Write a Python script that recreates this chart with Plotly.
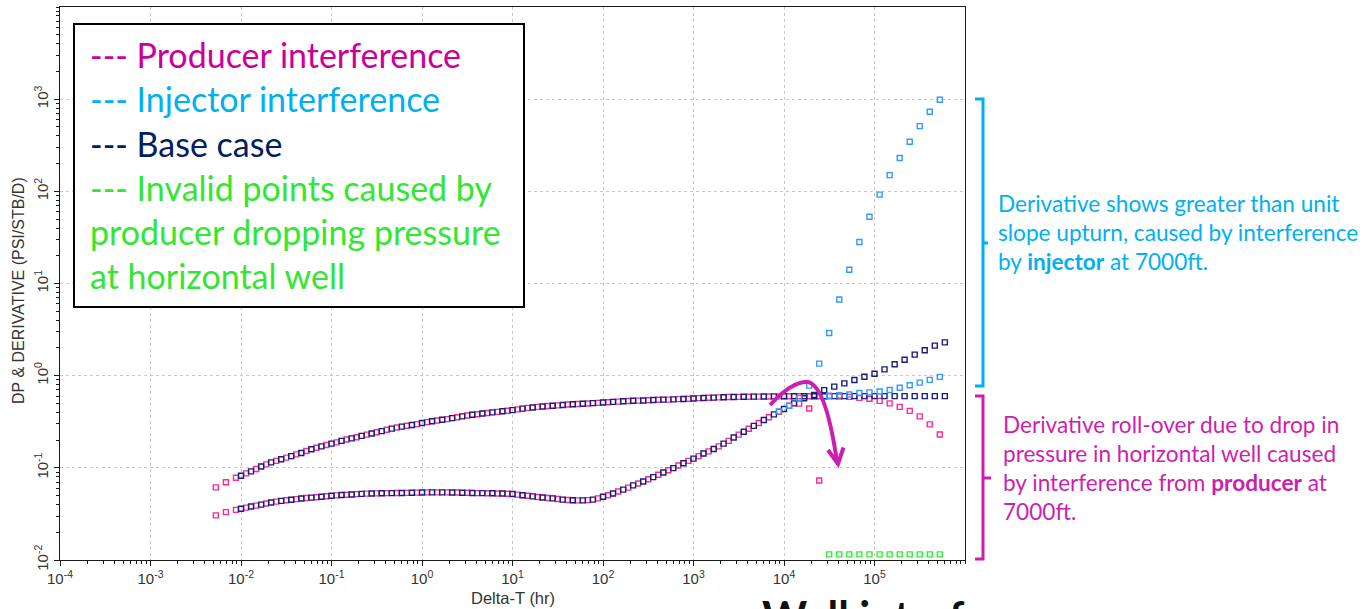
import plotly.graph_objects as go

# ---- sampled times (hr) ----
base_t = [
    0.01, 0.0129, 0.0167, 0.0215, 0.0278, 0.0359, 0.0464, 0.0599, 0.0774,
    0.1, 0.129, 0.167, 0.215, 0.278, 0.359, 0.464, 0.599, 0.774,
    1.0, 1.29, 1.67, 2.15, 2.78, 3.59, 4.64, 5.99, 7.74,
    10.0, 12.9, 16.7, 21.5, 27.8, 35.9, 46.4, 59.9, 77.4,
    100, 129, 167, 215, 278, 359, 464, 599, 774,
    1.0e3, 1.29e3, 1.67e3, 2.15e3, 2.78e3, 3.59e3, 4.64e3, 5.99e3, 7.74e3,
    1.0e4, 1.29e4, 1.67e4, 2.15e4, 2.78e4, 3.59e4, 4.64e4, 5.99e4, 7.74e4,
    1.0e5, 1.29e5, 1.67e5, 2.15e5, 2.78e5, 3.59e5, 4.64e5, 5.99e5,
]
prod_t = [
    0.00527, 0.00681, 0.0088,
    0.0114, 0.0147, 0.019, 0.0245, 0.0316, 0.0408, 0.0527, 0.0681, 0.088,
    0.114, 0.147, 0.19, 0.245, 0.316, 0.408, 0.527, 0.681, 0.88,
    1.14, 1.47, 1.9, 2.45, 3.16, 4.08, 5.27, 6.81, 8.8,
    11.4, 14.7, 19.0, 24.5, 31.6, 40.8, 52.7, 68.1, 88.0,
    114, 147, 190, 245, 316, 408, 527, 681, 880,
    1.14e3, 1.47e3, 1.9e3, 2.45e3, 3.16e3, 4.08e3, 5.27e3, 6.81e3, 8.8e3,
    1.14e4, 1.47e4, 1.9e4, 2.45e4, 3.16e4, 4.08e4, 5.27e4, 6.81e4, 8.8e4,
    1.14e5, 1.47e5, 1.9e5, 2.45e5, 3.16e5, 4.08e5, 5.27e5,
]

# ---- base case ----
base_dp = [
    0.0822, 0.0915, 0.1035, 0.1145, 0.124, 0.134, 0.145, 0.159, 0.171,
    0.183, 0.196, 0.209, 0.222, 0.236, 0.250, 0.266, 0.280, 0.292,
    0.306, 0.320, 0.332, 0.346, 0.362, 0.376, 0.388, 0.400, 0.411,
    0.423, 0.439, 0.452, 0.463, 0.472, 0.481, 0.490, 0.496, 0.503,
    0.511, 0.519, 0.527, 0.534, 0.538, 0.544, 0.549, 0.553, 0.559,
    0.565, 0.573, 0.578, 0.583, 0.587, 0.590, 0.592, 0.594, 0.596,
    0.597, 0.598, 0.598, 0.599, 0.599, 0.600, 0.600, 0.600, 0.600,
    0.600, 0.600, 0.600, 0.600, 0.600, 0.600, 0.600, 0.600,
]
base_der = [
    0.0360, 0.0380, 0.0399, 0.0421, 0.0438, 0.0451, 0.0465, 0.0475, 0.0485,
    0.0498, 0.0507, 0.0513, 0.0522, 0.0527, 0.0530, 0.0532, 0.0534, 0.0536,
    0.0540, 0.0542, 0.0542, 0.0540, 0.0537, 0.0534, 0.0531, 0.0529, 0.0526,
    0.0520, 0.0505, 0.0490, 0.0477, 0.0466, 0.0452, 0.0445, 0.0444, 0.0452,
    0.0485, 0.0527, 0.0580, 0.0645, 0.0712, 0.0793, 0.0890, 0.0993, 0.112,
    0.126, 0.143, 0.160, 0.183, 0.213, 0.246, 0.285, 0.330, 0.380,
    0.435, 0.500, 0.568, 0.618, 0.697, 0.760, 0.825, 0.897, 0.975,
    1.05, 1.17, 1.33, 1.49, 1.69, 1.89, 2.12, 2.30,
]

# ---- producer interference ----
prod_dp = [
    0.0613, 0.0697, 0.0780,
    0.0870, 0.0972, 0.109, 0.119, 0.129, 0.140, 0.152, 0.165, 0.177,
    0.189, 0.203, 0.215, 0.229, 0.243, 0.259, 0.274, 0.286, 0.298,
    0.313, 0.326, 0.338, 0.354, 0.369, 0.382, 0.394, 0.405, 0.417,
    0.431, 0.447, 0.459, 0.468, 0.476, 0.486, 0.493, 0.499, 0.507,
    0.515, 0.523, 0.531, 0.536, 0.541, 0.547, 0.550, 0.556, 0.562,
    0.570, 0.576, 0.581, 0.586, 0.589, 0.591, 0.593, 0.595, 0.596,
    0.597, 0.597, 0.597, 0.597, 0.596, 0.594, 0.589, 0.574, 0.561,
    0.533, 0.500, 0.458, 0.415, 0.362, 0.296, 0.230,
]
prod_der = [
    0.0305, 0.0331, 0.0350,
    0.0370, 0.0389, 0.0410, 0.0430, 0.0445, 0.0458, 0.0470, 0.0480, 0.0492,
    0.0503, 0.0510, 0.0518, 0.0525, 0.0528, 0.0531, 0.0533, 0.0535, 0.0538,
    0.0541, 0.0542, 0.0541, 0.0539, 0.0536, 0.0532, 0.0530, 0.0527, 0.0523,
    0.0512, 0.0498, 0.0483, 0.0471, 0.0459, 0.0448, 0.0444, 0.0446, 0.0466,
    0.0505, 0.0553, 0.0610, 0.0677, 0.0752, 0.0840, 0.0940, 0.106, 0.119,
    0.134, 0.151, 0.171, 0.196, 0.229, 0.265, 0.307, 0.354, 0.405,
    0.472, 0.497, 0.440, 0.073,
]

# ---- injector interference (late-time deviation) ----
inj_t = [8.8e3, 1.14e4, 1.47e4, 1.9e4, 2.45e4, 3.16e4, 4.08e4, 5.27e4, 6.81e4,
         8.8e4, 1.14e5, 1.47e5, 1.9e5, 2.45e5, 3.16e5, 4.08e5, 5.27e5]
inj_der = [0.41, 0.47, 0.57, 0.78, 1.35, 2.9, 6.7, 14.1, 28.2,
           53, 92, 150, 230, 345, 510, 730, 985]
inj_dp_t = [3.16e4, 4.08e4, 5.27e4, 6.81e4, 8.8e4, 1.14e5, 1.47e5, 1.9e5,
            2.45e5, 3.16e5, 4.08e5, 5.27e5]
inj_dp = [0.605, 0.615, 0.625, 0.648, 0.658, 0.673, 0.699, 0.740,
          0.788, 0.840, 0.900, 0.970]

# ---- invalid derivative points (producer case) ----
invalid_t = [3.16e4, 4.08e4, 5.27e4, 6.81e4, 8.8e4, 1.14e5, 1.47e5, 1.9e5,
             2.45e5, 3.16e5, 4.08e5, 5.27e5]
invalid_der = [0.0115, 0.0115, 0.0115, 0.0115, 0.0115, 0.0115, 0.0115,
               0.0115, 0.0115, 0.0115, 0.0115, 0.0115]

x_tickvals = [1e-4, 1e-3, 1e-2, 1e-1, 1, 10, 1e2, 1e3, 1e4, 1e5]
x_ticktext = ["10<sup>-4</sup>", "10<sup>-3</sup>", "10<sup>-2</sup>", "10<sup>-1</sup>",
              "10<sup>0</sup>", "10<sup>1</sup>", "10<sup>2</sup>", "10<sup>3</sup>",
              "10<sup>4</sup>", "10<sup>5</sup>"]
y_tickvals = [1e-2, 1e-1, 1, 10, 1e2, 1e3]
y_ticktext = ["10<sup>-2</sup>", "10<sup>-1</sup>", "10<sup>0</sup>", "10<sup>1</sup>",
              "10<sup>2</sup>", "10<sup>3</sup>"]

PINK = "#ff2a8c"
NAVY = "#1b1b80"
BLUE = "#3399ff"
LIME = "#33ee33"


def sq(color):
    return dict(symbol="square-open", size=5, color=color, line=dict(width=1.4, color=color))


fig = go.Figure()
fig.add_trace(go.Scatter(x=prod_t, y=prod_dp, mode="markers", marker=sq(PINK), name="Producer DP"))
fig.add_trace(go.Scatter(x=prod_t[:len(prod_der)], y=prod_der, mode="markers", marker=sq(PINK), name="Producer derivative"))
fig.add_trace(go.Scatter(x=base_t, y=base_dp, mode="markers", marker=sq(NAVY), name="Base DP"))
fig.add_trace(go.Scatter(x=base_t, y=base_der, mode="markers", marker=sq(NAVY), name="Base derivative"))
fig.add_trace(go.Scatter(x=inj_dp_t, y=inj_dp, mode="markers", marker=sq(BLUE), name="Injector DP"))
fig.add_trace(go.Scatter(x=inj_t, y=inj_der, mode="markers", marker=sq(BLUE), name="Injector derivative"))
fig.add_trace(go.Scatter(x=invalid_t, y=invalid_der, mode="markers", marker=sq(LIME), name="Invalid points"))

# plot area in page pixels: x 60..965, y 7..560
L, R, T, B = 60, 965, 7, 560


def px(x):
    return (x - L) / (R - L)


def py(y):
    return (B - y) / (B - T)


axis_common = dict(
    type="log", showline=True, linecolor="#1a1a1a", linewidth=1, mirror=True,
    showgrid=True, gridcolor="#c8c8c8", griddash="3px,3px", gridwidth=1,
    ticks="outside", ticklen=5, tickcolor="#1a1a1a",
    tickfont=dict(family="Liberation Sans", size=15, color="#333333"),
    minor=dict(ticks="outside", ticklen=3, tickcolor="#1a1a1a", showgrid=False, dtick="D1"),
    zeroline=False,
)
fig.update_xaxes(range=[-4, 6], tickvals=x_tickvals, ticktext=x_ticktext, **axis_common)
fig.update_yaxes(range=[-2, 4], tickvals=y_tickvals, ticktext=y_ticktext, tickangle=-90, **axis_common)

shapes = []
# legend box
shapes.append(dict(type="rect", xref="paper", yref="paper", x0=px(74), x1=px(524), y0=py(24), y1=py(307),
                   line=dict(color="#000000", width=2), fillcolor="white", layer="above"))
# blue bracket
CYAN = "#00b0f0"
MAG = "#cc1fb0"
shapes.append(dict(type="path", xref="paper", yref="paper",
                   path=f"M {px(975)},{py(99)} L {px(983)},{py(99)} L {px(983)},{py(386)} L {px(975)},{py(386)}",
                   line=dict(color=CYAN, width=3)))
shapes.append(dict(type="line", xref="paper", yref="paper", x0=px(983), x1=px(988), y0=py(243), y1=py(243),
                   line=dict(color=CYAN, width=3)))
# magenta bracket
shapes.append(dict(type="path", xref="paper", yref="paper",
                   path=f"M {px(975)},{py(396)} L {px(983)},{py(396)} L {px(983)},{py(559)} L {px(975)},{py(559)}",
                   line=dict(color=MAG, width=3)))
shapes.append(dict(type="line", xref="paper", yref="paper", x0=px(983), x1=px(991), y0=py(478), y1=py(478),
                   line=dict(color=MAG, width=3)))
# curved arrow showing the derivative roll-over
shapes.append(dict(type="path", xref="paper", yref="paper",
                   path=(f"M {px(770)},{py(405)} Q {px(792)},{py(381)} {px(808)},{py(382)} "
                         f"Q {px(826)},{py(386)} {px(837)},{py(462)}"),
                   line=dict(color=MAG, width=4)))
shapes.append(dict(type="path", xref="paper", yref="paper",
                   path=f"M {px(828)},{py(450)} L {px(838)},{py(464)} L {px(843.5)},{py(447.5)}",
                   line=dict(color=MAG, width=4)))

annotations = []


def note(text, x, y, size, color, xanchor="left", yanchor="middle", family="Lato", angle=0):
    annotations.append(dict(text=text, x=px(x), y=py(y), xref="paper", yref="paper",
                            xanchor=xanchor, yanchor=yanchor, showarrow=False, textangle=angle,
                            font=dict(family=family, size=size, color=color)))


LEG = 34
legend_lines = [
    ("--- Producer interference", "#cc0099", 66),
    ("--- Injector interference", "#00b0f0", 110),
    ("--- Base case", "#002060", 155),
    ("--- Invalid points caused by", "#33e633", 199),
    ("producer dropping pressure", "#33e633", 243),
    ("at horizontal well", "#33e633", 287),
]
for txt, col, base in legend_lines:
    note(txt, 88, base - 0.33 * LEG, LEG, col)

RT = 22.6
for txt, base in [("Derivative shows greater than unit", 211),
                  ("slope upturn, caused by interference", 240),
                  ("by <b>injector</b> at 7000ft.", 269)]:
    note(txt, 996, base - 0.33 * RT, RT, CYAN)
for txt, base in [("Derivative roll-over due to drop in", 432),
                  ("pressure in horizontal well caused", 461),
                  ("by interference from <b>producer</b> at", 490),
                  ("7000ft.", 519)]:
    note(txt, 1001, base - 0.33 * RT, RT, MAG)

note("Delta-T (hr)", 513, 598, 16.5, "#333333", xanchor="center", family="Liberation Sans")
note("DP &amp; DERIVATIVE (PSI/STB/D)", 18, 291, 16, "#333333", xanchor="center",
     family="Liberation Sans", angle=-90)
note("<b>Well interf</b>", 760, 589, 43, "#111111", yanchor="top")

fig.update_layout(
    width=1366, height=609,
    margin=dict(l=L, r=1366 - R, t=T, b=609 - B),
    paper_bgcolor="white", plot_bgcolor="white",
    showlegend=False,
    shapes=shapes, annotations=annotations,
)
fig.write_html("out.html")
